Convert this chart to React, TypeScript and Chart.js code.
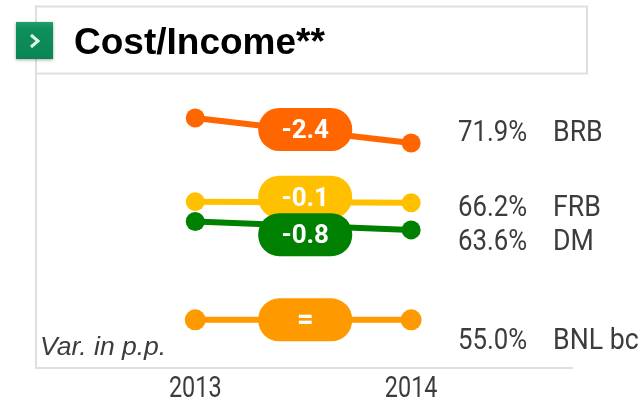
import React, { useEffect, useRef } from "react";
import { Chart, registerables } from "chart.js";

Chart.register(...registerables);

const years = [2013, 2014];
const seriesNames = ["BRB", "FRB", "DM", "BNL bc"];
const values2013 = [74.3, 66.3, 64.4, 55.0];
const values2014 = [71.9, 66.2, 63.6, 55.0];
const variations = ["-2.4", "-0.1", "-0.8", "="];
const colors = ["#FF6600", "#FFC000", "#008000", "#FF9900"];
const pointRadii = [9.5, 9.5, 9.5, 10.5];
const pillOffsets = [-1, -5, 9, 0];
const labelOffsets = [-10, 6, 13, 22];
const titleText = "Cost/Income**";
const noteText = "Var. in p.p.";

const FRAME = "#E0E0E0";
const TEXT = "#3C3C3C";
const ROBOTO = '"Roboto", sans-serif';

function squeezedText(ctx: any, text: string, x: number, y: number, sx: number) {
  ctx.save();
  ctx.translate(x, y);
  ctx.scale(sx, 1);
  ctx.fillText(text, 0, 0);
  ctx.restore();
}

const decorations = {
  id: "decorations",
  beforeDatasetsDraw(chart: any) {
    const ctx = chart.ctx;
    ctx.save();
    ctx.strokeStyle = FRAME;
    ctx.lineWidth = 2;
    ctx.strokeRect(36, 6.5, 551, 67);
    ctx.restore();
  },
  afterDatasetsDraw(chart: any) {
    const ctx = chart.ctx;
    const yScale = chart.scales.y;
    const xScale = chart.scales.x;
    ctx.save();
    // badge
    ctx.save();
    ctx.shadowColor = "rgba(0,0,0,0.35)";
    ctx.shadowBlur = 3;
    ctx.shadowOffsetY = 1;
    const g = ctx.createLinearGradient(0, 21, 0, 60);
    g.addColorStop(0, "#23A06E");
    g.addColorStop(0.2, "#0E8F5C");
    g.addColorStop(1, "#0B8453");
    ctx.fillStyle = g;
    ctx.fillRect(16, 22, 37, 37);
    ctx.restore();
    ctx.strokeStyle = "#DDF2E8";
    ctx.lineWidth = 3;
    ctx.beginPath();
    ctx.moveTo(31, 35);
    ctx.lineTo(38, 41);
    ctx.lineTo(31, 47);
    ctx.stroke();
    // title
    ctx.fillStyle = "#000";
    ctx.font = 'bold 37px "Liberation Sans", Arial, sans-serif';
    ctx.textBaseline = "middle";
    ctx.textAlign = "left";
    ctx.fillText(titleText, 74, 44);
    // note
    ctx.fillStyle = TEXT;
    ctx.font = 'italic 26.5px "Liberation Sans", sans-serif';
    ctx.fillText(noteText, 40, 348);

    const xMid = xScale.getPixelForValue((years[0] + years[1]) / 2) + 2;
    // pills
    seriesNames.forEach((_, i) => {
      const mid = (yScale.getPixelForValue(values2013[i]) + yScale.getPixelForValue(values2014[i])) / 2;
      const cy = mid + pillOffsets[i];
      ctx.fillStyle = colors[i];
      ctx.beginPath();
      ctx.roundRect(xMid - 47, cy - 21.5, 94, 43, 21);
      ctx.fill();
      ctx.fillStyle = "#fff";
      ctx.font = (variations[i].length === 1 ? "bold 29px " : "bold 26px ") + ROBOTO;
      ctx.textAlign = "center";
      ctx.textBaseline = "middle";
      ctx.fillText(variations[i], xMid, cy + 2);
    });
    // right labels
    ctx.fillStyle = TEXT;
    ctx.font = "30px " + ROBOTO;
    ctx.textAlign = "left";
    seriesNames.forEach((name, i) => {
      const y = yScale.getPixelForValue(values2014[i]) + labelOffsets[i];
      squeezedText(ctx, values2014[i].toFixed(1) + "%", 458, y, 0.86);
      squeezedText(ctx, name, 553, y, 0.89);
    });
    // x axis tick labels
    ctx.textAlign = "center";
    xScale.ticks.forEach((tick: any) => {
      squeezedText(ctx, String(tick.value), xScale.getPixelForValue(tick.value), 389.5, 0.78);
    });
    ctx.restore();
  },
};

export default function App() {
  const ref = useRef<HTMLCanvasElement>(null);
  useEffect(() => {
    const chart = new Chart(ref.current!, {
      type: "line",
      data: {
        datasets: seriesNames.map((name, i) => ({
          label: name,
          data: [
            { x: years[0], y: values2013[i] },
            { x: years[1], y: values2014[i] },
          ],
          borderColor: colors[i],
          backgroundColor: colors[i],
          pointBackgroundColor: colors[i],
          pointBorderWidth: 0,
          pointRadius: pointRadii[i],
          borderWidth: 6,
          tension: 0,
          clip: false,
        })),
      },
      options: {
        responsive: false,
        animation: false,
        layout: { autoPadding: false, padding: { left: 35.5, right: 68, top: 6, bottom: 0 } },
        plugins: { legend: { display: false }, title: { display: false }, tooltip: { enabled: false } },
        scales: {
          x: {
            type: "linear",
            min: 2012.26,
            max: 2014.745,
            afterBuildTicks(scale: any) {
              scale.ticks = years.map((value) => ({ value }));
            },
            afterFit(scale: any) {
              scale.height = 35;
            },
            grid: { display: false, drawTicks: false },
            border: { display: true, color: FRAME, width: 2 },
            ticks: { display: false },
          },
          y: {
            min: 50.4,
            max: 85,
            afterFit(scale: any) {
              scale.width = 0;
            },
            grid: { display: false, drawTicks: false },
            border: { display: true, color: FRAME, width: 2 },
            ticks: { display: false },
          },
        },
      },
      plugins: [decorations],
    } as any);
    return () => chart.destroy();
  }, []);
  return (
    <div style={{ position: "fixed", left: 0, top: 0, width: 640, height: 403, background: "#fff" }}>
      <canvas ref={ref} width={640} height={403} style={{ display: "block" }} />
    </div>
  );
}
